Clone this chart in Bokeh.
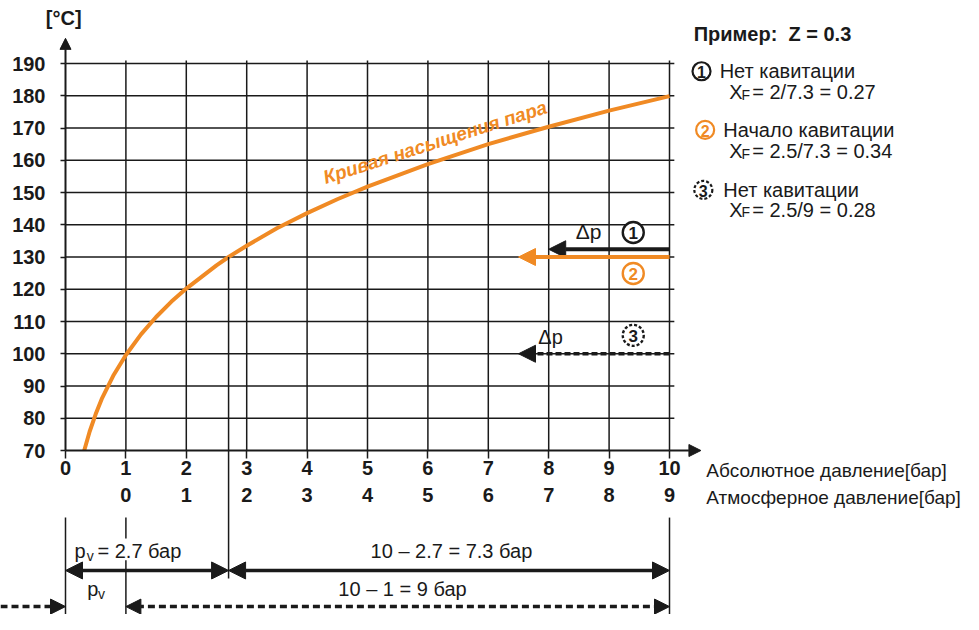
from bokeh.plotting import figure
from bokeh.models import Range1d, LinearAxis, FixedTicker, Arrow, NormalHead
from bokeh.core.properties import value
from bokeh.embed import file_html
from bokeh.resources import INLINE

# ---------------- data ----------------
abs_pressure = [0.31, 0.4, 0.5, 0.6, 0.8, 1.0, 1.25, 1.5, 1.75, 2.0, 2.5, 2.7,
                3.0, 3.5, 4.0, 4.5, 5.0, 6.0, 7.0, 8.0, 9.0, 10.0]
sat_temp = [70.0, 75.9, 81.3, 86.0, 93.5, 99.6, 106.0, 111.4, 116.1, 120.2, 127.4, 130.0,
            133.5, 138.9, 143.6, 147.9, 151.8, 158.8, 165.0, 170.4, 175.4, 179.9]

x_ticks = [0, 1, 2, 3, 4, 5, 6, 7, 8, 9, 10]
y_ticks = [70, 80, 90, 100, 110, 120, 130, 140, 150, 160, 170, 180, 190]
atm_ticks = [1, 2, 3, 4, 5, 6, 7, 8, 9, 10]
atm_labels = ["0", "1", "2", "3", "4", "5", "6", "7", "8", "9"]

p_inlet = 10.0
p_vapour = 2.7
p_ambient = 1.0
case_dp = [2.0, 2.5, 2.5]
case_level = [132.4, 130.0, 100.0]
case_titles = ["Нет кавитации", "Начало кавитации", "Нет кавитации"]
case_xf = ["2/7.3 = 0.27", "2.5/7.3 = 0.34", "2.5/9 = 0.28"]

ORANGE = "#F08A24"
INK = "#1a1a1a"
FONT = "Liberation Sans"

W, H = 963, 614
PXX = 60.4     # px per bar
PXY = 3.225    # px per °C
X0 = 65        # px of x = 0
Y190 = 63      # px of y = 190
x_range = Range1d(-X0 / PXX, (W - X0) / PXX)
y_range = Range1d(190 - (H - Y190) / PXY, 190 + Y190 / PXY)
YB = y_range.start

p = figure(width=W, height=H, x_range=x_range, y_range=y_range,
           output_backend="svg", toolbar_location=None, min_border=0,
           x_axis_type=None, y_axis_type=None)
p.outline_line_color = None
p.background_fill_color = "white"
p.border_fill_color = "white"


def style_axis(ax):
    ax.axis_line_width = 2
    ax.axis_line_color = INK
    ax.major_tick_line_color = INK
    ax.major_tick_line_width = 1.5
    ax.major_tick_in = 0
    ax.minor_tick_line_color = None
    ax.major_label_text_font = FONT
    ax.major_label_text_font_style = "bold"
    ax.major_label_text_font_size = "20px"
    ax.major_label_text_color = INK


xaxis = LinearAxis(fixed_location=70, bounds=(0, 10), ticker=FixedTicker(ticks=x_ticks))
style_axis(xaxis)
xaxis.major_tick_out = 8
xaxis.major_label_standoff = 2
p.add_layout(xaxis, "below")

atm_axis = LinearAxis(fixed_location=70, bounds=(0, 10), ticker=FixedTicker(ticks=atm_ticks),
                      major_label_overrides={t: l for t, l in zip(atm_ticks, atm_labels)})
style_axis(atm_axis)
atm_axis.axis_line_color = None
atm_axis.major_tick_line_color = None
atm_axis.major_tick_out = 0
atm_axis.major_label_standoff = 37
p.add_layout(atm_axis, "below")

yaxis = LinearAxis(fixed_location=0, bounds=(70, 190), ticker=FixedTicker(ticks=y_ticks))
style_axis(yaxis)
yaxis.major_tick_out = 5
yaxis.major_label_standoff = 15
p.add_layout(yaxis, "left")

# grid
vx = [t for t in x_ticks if t > 0]
p.segment(x0=vx, y0=[70] * len(vx), x1=vx, y1=[190.9] * len(vx), line_color=INK, line_width=1.5)
hy = [t for t in y_ticks if t > 70]
p.segment(x0=[0] * len(hy), y0=hy, x1=[10.08] * len(hy), y1=hy, line_color=INK, line_width=1.5)

# axis arrows
p.add_layout(Arrow(x_start=0, y_start=190, x_end=0, y_end=197.8, line_color=INK, line_width=2,
                   end=NormalHead(size=11, fill_color=INK, line_color=INK)))
p.add_layout(Arrow(x_start=10, y_start=70, x_end=10.52, y_end=70, line_color=INK, line_width=2,
                   end=NormalHead(size=12, fill_color=INK, line_color=INK)))


def txt(x, y, s, size="20px", style="normal", color=INK, align="left", angle=0.0, baseline="middle"):
    p.text(x=[x], y=[y], text=[s], text_font=value(FONT), text_font_size=size,
           text_font_style=style, text_color=color, text_align=align,
           text_baseline=baseline, angle=angle)


txt(-0.03, 204.2, "[°C]", style="bold", align="center")
txt(10.61, 63.8, "Абсолютное давление[бар]", size="19px")
txt(10.61, 55.4, "Атмосферное давление[бар]", size="19px")

# saturation curve
p.line(abs_pressure, sat_temp, line_color=ORANGE, line_width=4)
txt(6.12, 165.6, "Кривая насыщения пара", size="19px", style="bold italic", color=ORANGE,
    align="center", angle=0.31)

# vapour pressure vertical
i_v = abs_pressure.index(p_vapour)
p.segment(x0=[p_vapour], y0=[sat_temp[i_v]], x1=[p_vapour], y1=[30.3], line_color=INK, line_width=1.5)

# case arrows inside plot
case_colors = [INK, ORANGE, INK]
case_dash = ["solid", "solid", "6 3"]
case_width = [4, 4, 3.5]
for dp, lvl, col, dash, lw in zip(case_dp, case_level, case_colors, case_dash, case_width):
    p.add_layout(Arrow(x_start=p_inlet, y_start=lvl, x_end=p_inlet - dp, y_end=lvl,
                       line_color=col, line_width=lw, line_dash=dash,
                       end=NormalHead(size=17, fill_color=col, line_color=col)))

txt(8.66, 137.8, "Δp", size="21px", align="center")
txt(8.03, 105.3, "Δp", size="20px", align="center")

marker_x = [9.4, 9.4, 9.4]
marker_y = [137.6, 124.9, 105.7]
for i in range(3):
    p.scatter(x=[marker_x[i]], y=[marker_y[i]], size=21, marker="circle", fill_color="white",
              line_color=case_colors[i], line_width=2.4, line_dash=("3 2" if i == 2 else "solid"))
    txt(marker_x[i], marker_y[i] - 0.2, str(i + 1), size="17px", style="bold",
        color=case_colors[i], align="center")

# legend block
txt(10.40, 199.3, "Пример:\u00a0\u00a0Z = 0.3", size="20px", style="bold")
leg_circle_x = [10.53, 10.59, 10.56]
leg_title_x = [10.83, 10.89, 10.89]
leg_title_y = [187.6, 169.4, 150.8]
leg_xf_y = [181.1, 162.8, 144.6]
for i in range(3):
    p.scatter(x=[leg_circle_x[i]], y=[leg_title_y[i]], size=18, marker="circle", fill_color="white",
              line_color=case_colors[i], line_width=2.2, line_dash=("3 2" if i == 2 else "solid"))
    txt(leg_circle_x[i], leg_title_y[i] - 0.2, str(i + 1), size="16px", style="bold",
        color=case_colors[i], align="center")
    txt(leg_title_x[i], leg_title_y[i], case_titles[i], size="20px")
    txt(10.99, leg_xf_y[i], "X", size="20px")
    txt(11.19, leg_xf_y[i] - 0.8, "F", size="14px")
    txt(11.37, leg_xf_y[i], "= " + case_xf[i], size="20px")

# dimension lines below
for xv in [0, p_inlet]:
    p.segment(x0=[xv], y0=[49.2], x1=[xv], y1=[YB], line_color=INK, line_width=1.5)
p.segment(x0=[p_ambient, p_ambient], y0=[49.2, 36.0], x1=[p_ambient, p_ambient],
          y1=[42.7, YB], line_color=INK, line_width=1.5)

dim_y = 32.8
for a, b in [(0, p_vapour), (p_vapour, p_inlet)]:
    p.add_layout(Arrow(x_start=a, y_start=dim_y, x_end=b, y_end=dim_y, line_color=INK, line_width=3.5,
                       start=NormalHead(size=17, fill_color=INK, line_color=INK),
                       end=NormalHead(size=17, fill_color=INK, line_color=INK)))

txt(0.15, 38.7, "p", size="20px")
txt(0.35, 37.4, "v", size="14px")
txt(0.53, 38.7, f"= {p_vapour:g} бар", size="20px")
txt(6.39, 38.7, f"{p_inlet:g} – {p_vapour:g} = {p_inlet - p_vapour:.1f} бар", size="20px", align="center")

dash_y = 21.6
p.add_layout(Arrow(x_start=x_range.start, y_start=dash_y, x_end=0, y_end=dash_y, line_color=INK,
                   line_width=3.5, line_dash="7 4",
                   end=NormalHead(size=15, fill_color=INK, line_color=INK)))
p.add_layout(Arrow(x_start=p_ambient, y_start=dash_y, x_end=p_inlet, y_end=dash_y, line_color=INK,
                   line_width=3.5, line_dash="7 4",
                   start=NormalHead(size=15, fill_color=INK, line_color=INK),
                   end=NormalHead(size=15, fill_color=INK, line_color=INK)))
txt(0.36, 26.9, "p", size="20px")
txt(0.54, 25.6, "v", size="14px")
txt(5.58, 26.9, f"{p_inlet:g} – {p_ambient:g} = {p_inlet - p_ambient:g} бар", size="20px", align="center")

open("out.html", "w").write(file_html(p, INLINE))
